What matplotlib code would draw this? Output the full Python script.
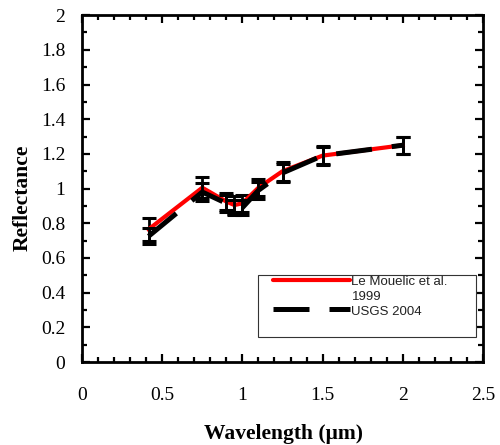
"""Reflectance spectrum: Le Mouelic et al. 1999 vs USGS 2004."""
import matplotlib
matplotlib.use("Agg")
import matplotlib.pyplot as plt  # noqa: E402
from matplotlib.lines import Line2D  # noqa: E402
from matplotlib.patches import Rectangle  # noqa: E402
from matplotlib.ticker import MultipleLocator  # noqa: E402

# Clementine filter wavelengths (um)
WAVELENGTH = [0.415, 0.75, 0.90, 0.95, 1.00, 1.10, 1.25, 1.50, 2.00]
MOUELIC = [0.765, 1.005, 0.925, 0.905, 0.915, 1.005, 1.10, 1.19, 1.25]
MOUELIC_ERR = [0.065, 0.06, 0.05, 0.05, 0.05, 0.05, 0.055, 0.055, 0.05]
USGS = [0.725, 0.98, 0.915, 0.89, 0.89, 0.99, 1.09, 1.19, 1.25]
USGS_ERR = [0.045, 0.05, 0.05, 0.045, 0.045, 0.05, 0.05, 0.05, 0.05]

XTICKS = [0, 0.5, 1, 1.5, 2, 2.5]
XTICKLABELS = ["0", "0.5", "1", "1.5", "2", "2.5"]
YTICKS = [0, 0.2, 0.4, 0.6, 0.8, 1.0, 1.2, 1.4, 1.6, 1.8, 2.0]
YTICKLABELS = ["0", "0.2", "0.4", "0.6", "0.8", "1", "1.2", "1.4", "1.6",
               "1.8", "2"]

SERIF = "Liberation Serif"
SANS = "Liberation Sans"
RED = "#ff0000"
DASH = (0, (7.2, 4))


def legend_box(ax) -> None:
    # hand-placed legend, Excel style: text wraps, handle sits on first line
    tr = ax.transAxes
    ax.add_patch(Rectangle((0.439, 0.072), 0.544, 0.179, transform=tr,
                           facecolor="white", edgecolor="#333333", lw=0.8,
                           zorder=6))
    ax.add_line(Line2D([0.476, 0.668], [0.236, 0.236], transform=tr,
                       color=RED, lw=3, solid_capstyle="round", zorder=7))
    ax.add_line(Line2D([0.476, 0.668], [0.153, 0.153], transform=tr,
                       color="black", lw=3.6, ls=DASH, zorder=7))
    kw = dict(transform=tr, family=SANS, fontsize=9.5, color="#222222",
              va="center", ha="left", zorder=8)
    ax.text(0.672, 0.231, "Le Mouelic et al.", **kw)
    ax.text(0.672, 0.187, "1999", **kw)
    ax.text(0.672, 0.143, "USGS 2004", **kw)


def main() -> None:
    fig = plt.figure(figsize=(5.0, 4.45), dpi=100)
    ax = fig.add_axes([0.164, 0.1865, 0.802, 0.7795])

    ax.errorbar(WAVELENGTH, MOUELIC, yerr=MOUELIC_ERR, color=RED, lw=3,
                ecolor="black", elinewidth=2, capsize=5, capthick=2.2,
                zorder=3)
    ax.errorbar(WAVELENGTH, USGS, yerr=USGS_ERR, color="black", lw=3.6,
                ls=DASH, ecolor="black", elinewidth=2, capsize=5,
                capthick=2.2, zorder=4)

    ax.set_xticks(XTICKS)
    ax.set_xticklabels(XTICKLABELS)
    ax.set_yticks(YTICKS)
    ax.set_yticklabels(YTICKLABELS)
    ax.xaxis.set_minor_locator(MultipleLocator(0.1))
    ax.yaxis.set_minor_locator(MultipleLocator(0.1))
    ax.set_xlim(0, 2.5)
    ax.set_ylim(0, 2)
    ax.tick_params(which="both", direction="in", top=True, right=True,
                   width=1.6)
    ax.tick_params(which="major", length=6)
    ax.tick_params(which="minor", length=3.5)
    ax.tick_params(axis="x", which="major", pad=18)
    ax.tick_params(axis="y", which="major", pad=12)
    for lab in ax.get_xticklabels() + ax.get_yticklabels():
        lab.set_fontfamily(SERIF)
        lab.set_fontsize(14)
    for sp in ax.spines.values():
        sp.set_linewidth(2)

    ax.set_xlabel("Wavelength (\u03bcm)", family=SERIF, fontsize=15.5,
                  fontweight="bold")
    ax.xaxis.set_label_coords(0.502, -0.18)
    ax.set_ylabel("Reflectance", family=SERIF, fontsize=15.5,
                  fontweight="bold")
    ax.yaxis.set_label_coords(-0.122, 0.473)

    legend_box(ax)

    fig.savefig("out.png", dpi=100)


if __name__ == "__main__":
    main()
